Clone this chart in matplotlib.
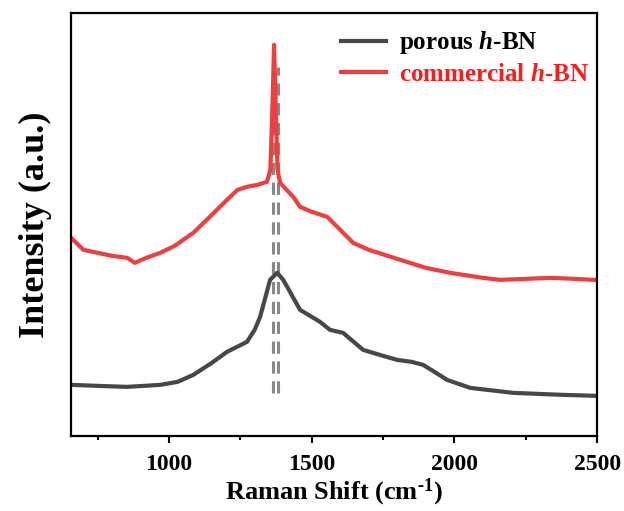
import numpy as np
import matplotlib
matplotlib.use('Agg')
import matplotlib.pyplot as plt
from matplotlib.ticker import MultipleLocator

plt.rcParams['font.family'] = 'Liberation Serif'
plt.rcParams['font.weight'] = 'bold'
plt.rcParams['mathtext.fontset'] = 'custom'
plt.rcParams['mathtext.rm'] = 'Liberation Serif:bold'
plt.rcParams['mathtext.it'] = 'Liberation Serif:bold:italic'
plt.rcParams['mathtext.bf'] = 'Liberation Serif:bold'

# commercial h-BN (arbitrary intensity)
shift_comm = [657, 700, 750, 800, 853, 880, 920, 969, 1020, 1085, 1150, 1203, 1240,
              1273, 1310, 1343, 1355, 1362, 1368, 1374, 1380, 1389, 1435, 1459, 1500,
              1554, 1600, 1645, 1700, 1810, 1900, 1985, 2100, 2160, 2250, 2335, 2420,
              2486, 2500]
int_comm = [198, 186, 183, 180, 178, 173, 178, 183, 190, 203, 221, 236, 246,
            249, 251, 254, 266, 326, 391, 326, 266, 253, 239, 229, 224,
            219, 206, 193, 186, 176, 168, 163, 158, 156, 157, 158, 157,
            156, 156]

# porous h-BN
shift_por = [657, 750, 853, 969, 1030, 1085, 1150, 1203, 1273, 1300, 1319, 1340, 1354,
             1379, 1400, 1414, 1459, 1529, 1564, 1610, 1680, 1750, 1799, 1850, 1890,
             1930, 1974, 2055, 2206, 2381, 2500]
int_por = [51, 50, 49, 51, 54, 61, 73, 84, 94, 106, 119, 141, 156,
           163, 156, 149, 126, 114, 106, 103, 86, 80, 76, 74, 71,
           64, 56, 48, 43, 41, 40]

peak_lines = [1366, 1382]
x_ticks = [1000, 1500, 2000, 2500]

red = '#ee3e3e'
gray = '#474747'

fig = plt.figure(figsize=(6.24, 5.11), dpi=100)
ax = fig.add_axes([0.114, 0.147, 0.843, 0.828])

ax.plot(shift_por, int_por, color=gray, lw=3, label=r'porous $h$-BN')
ax.plot(shift_comm, int_comm, color=red, lw=3, label=r'commercial $h$-BN')
for p in peak_lines:
    ax.plot([p, p], [43, 369], color='#888888', lw=2.2, ls=(0, (4, 2.5)), zorder=1)

ax.set_xlim(657, 2500)
ax.set_ylim(0, 423)
ax.set_xticks(x_ticks)
ax.xaxis.set_minor_locator(MultipleLocator(250))
ax.set_yticks([])
ax.tick_params(axis='x', which='major', direction='out', length=5, width=1.5, labelsize=17, pad=8)
ax.tick_params(axis='x', which='minor', direction='out', length=3, width=1.5)
for lab in ax.get_xticklabels():
    lab.set_fontweight('bold')
for s in ax.spines.values():
    s.set_linewidth(1.6)

ax.set_xlabel(r'Raman Shift (cm$^{\text{-1}}$)', fontsize=19, fontweight='bold', labelpad=1)
ax.set_ylabel('Intensity (a.u.)', fontsize=26, fontweight='bold', labelpad=14)

leg = ax.legend(loc='upper right', bbox_to_anchor=(1.019, 1.005), frameon=False, fontsize=18,
                handlelength=1.8, borderaxespad=0.35, labelspacing=0.25, handletextpad=0.5)
leg.get_texts()[1].set_color('#ff1a1a')

fig.savefig('out.png', dpi=100)
